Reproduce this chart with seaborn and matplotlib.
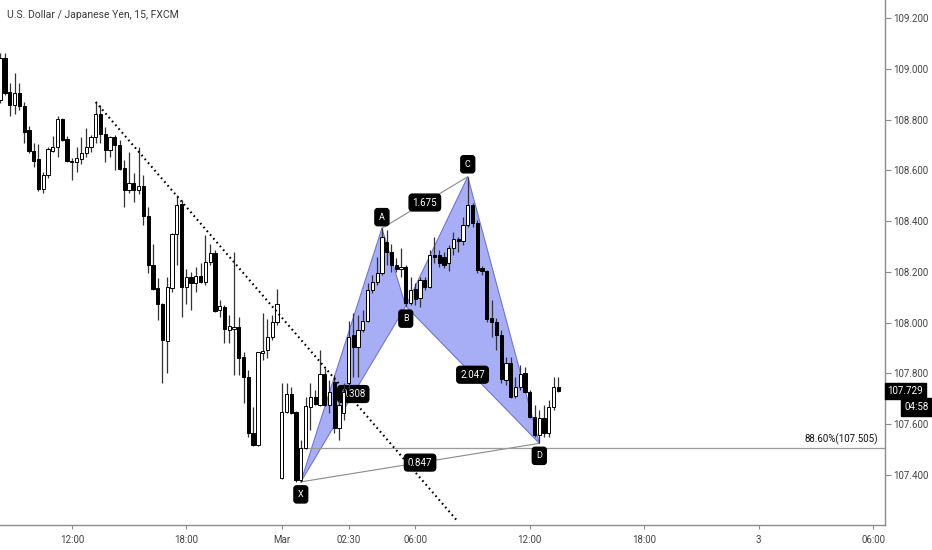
import matplotlib
matplotlib.use("Agg")
import matplotlib.pyplot as plt
import matplotlib.transforms as mtransforms
import seaborn as sns
import numpy as np

# ---------------- data (USD/JPY 15m candles) ----------------
opens = [108.878, 109.043, 108.909, 108.858, 108.905, 108.854, 108.759, 108.677, 108.645, 108.527,
         108.582, 108.677, 108.692, 108.803, 108.724, 108.637, 108.633, 108.645, 108.669, 108.692,
         108.732, 108.822, 108.744, 108.681, 108.732, 108.700, 108.610, 108.523, 108.550, 108.523,
         108.539, 108.420, 108.227, 108.136, 108.073, 107.927, 108.136, 108.349, 108.468, 108.140,
         108.180, 108.156, 108.184, 108.160, 108.239, 108.274, 108.050, 108.061, 107.971, 107.975,
         107.983, 107.864, 107.785, 107.565, 107.517, 107.880, 107.892, 107.943, 108.002, 107.387,
         107.647, 107.718, 107.647, 107.379, 107.506, 107.667, 107.707, 107.675, 107.797, 107.675,
         107.766, 107.584, 107.644, 107.762, 107.951, 107.904, 107.971, 108.006, 108.129, 108.160,
         108.196, 108.318, 108.278, 108.227, 108.211, 108.219, 108.077, 108.132, 108.097, 108.168,
         108.140, 108.267, 108.267, 108.259, 108.235, 108.294, 108.330, 108.322, 108.385, 108.464,
         108.393, 108.215, 108.203, 108.018, 108.002, 107.951, 107.774, 107.841, 107.711, 107.746,
         107.801, 107.726, 107.628, 107.557, 107.624, 107.565, 107.667, 107.746]
highs = [109.063, 109.063, 108.945, 108.984, 108.945, 108.870, 108.775, 108.708, 108.704, 108.594,
         108.692, 108.736, 108.815, 108.807, 108.736, 108.649, 108.692, 108.732, 108.767, 108.740,
         108.870, 108.858, 108.771, 108.735, 108.740, 108.720, 108.641, 108.673, 108.590, 108.692,
         108.582, 108.456, 108.310, 108.176, 108.077, 108.180, 108.355, 108.503, 108.483, 108.211,
         108.199, 108.219, 108.235, 108.345, 108.310, 108.286, 108.089, 108.069, 108.030, 108.278,
         108.022, 107.884, 107.813, 107.667, 107.884, 108.038, 108.014, 108.030, 108.132, 107.762,
         107.762, 107.746, 107.650, 107.537, 107.707, 107.762, 107.734, 107.892, 107.821, 107.774,
         107.793, 107.695, 107.762, 108.006, 108.038, 108.030, 108.050, 108.156, 108.188, 108.259,
         108.373, 108.365, 108.310, 108.255, 108.294, 108.227, 108.180, 108.156, 108.180, 108.180,
         108.286, 108.337, 108.286, 108.278, 108.306, 108.357, 108.337, 108.416, 108.575, 108.472,
         108.405, 108.223, 108.207, 108.089, 108.018, 107.971, 107.864, 107.864, 107.785, 107.833,
         107.825, 107.734, 107.675, 107.655, 107.675, 107.695, 107.785, 107.785]
lows = [108.866, 108.897, 108.815, 108.822, 108.838, 108.708, 108.669, 108.614, 108.520, 108.511,
        108.570, 108.673, 108.653, 108.716, 108.632, 108.562, 108.594, 108.625, 108.653, 108.673,
        108.708, 108.708, 108.633, 108.653, 108.602, 108.602, 108.456, 108.511, 108.476, 108.507,
        108.385, 108.196, 108.129, 108.010, 107.762, 107.801, 108.121, 108.227, 108.022, 108.073,
        108.050, 108.121, 108.155, 108.148, 108.227, 108.042, 108.022, 107.920, 107.920, 107.793,
        107.793, 107.683, 107.549, 107.513, 107.513, 107.853, 107.860, 107.931, 107.990, 107.383,
        107.644, 107.640, 107.371, 107.371, 107.500, 107.576, 107.675, 107.670, 107.670, 107.644,
        107.565, 107.537, 107.616, 107.734, 107.785, 107.785, 107.963, 108.002, 108.117, 108.148,
        108.188, 108.227, 108.199, 108.199, 108.180, 108.065, 108.069, 108.069, 108.061, 108.129,
        108.136, 108.235, 108.219, 108.215, 108.203, 108.267, 108.278, 108.306, 108.377, 108.377,
        108.196, 108.188, 108.002, 107.943, 107.892, 107.762, 107.754, 107.703, 107.703, 107.734,
        107.722, 107.624, 107.549, 107.525, 107.549, 107.549, 107.655, 107.726]
closes = [109.043, 108.905, 108.858, 108.905, 108.854, 108.752, 108.677, 108.637, 108.527, 108.582,
          108.684, 108.692, 108.803, 108.720, 108.637, 108.633, 108.649, 108.669, 108.692, 108.732,
          108.822, 108.744, 108.681, 108.732, 108.700, 108.606, 108.523, 108.550, 108.523, 108.539,
          108.420, 108.227, 108.132, 108.073, 107.931, 108.140, 108.349, 108.464, 108.140, 108.180,
          108.156, 108.184, 108.160, 108.239, 108.274, 108.046, 108.065, 107.975, 107.987, 107.983,
          107.860, 107.785, 107.565, 107.517, 107.884, 107.888, 107.943, 108.002, 108.073, 107.647,
          107.718, 107.644, 107.379, 107.506, 107.671, 107.707, 107.679, 107.797, 107.675, 107.726,
          107.584, 107.675, 107.726, 107.943, 107.904, 107.971, 108.006, 108.129, 108.160, 108.196,
          108.337, 108.278, 108.227, 108.211, 108.219, 108.077, 108.129, 108.093, 108.168, 108.140,
          108.267, 108.259, 108.235, 108.227, 108.294, 108.330, 108.322, 108.385, 108.464, 108.393,
          108.207, 108.203, 108.014, 108.002, 107.951, 107.778, 107.841, 107.707, 107.746, 107.797,
          107.726, 107.628, 107.557, 107.624, 107.565, 107.667, 107.746, 107.729]

# XABCD pattern points (bar index, price)
pattern_names = ["X", "A", "B", "C", "D"]
pattern_bars = [63, 80, 85, 98, 113]
pattern_prices = [107.372, 108.372, 108.065, 108.575, 107.524]
ratio_labels = ["0.308", "1.675", "2.047", "0.847"]

# dotted trend line (bar index, price)
trend_bars = [20, 96]
trend_prices = [108.870, 107.214]

fib_level = 107.505
fib_label = "88.60%(107.505)"
last_price = 107.729
countdown = "04:58"

xtick_bars = [15, 39, 59, 73, 87, 111, 135, 159, 183]
xtick_labels = ["12:00", "18:00", "Mar", "02:30", "06:00", "12:00", "18:00", "3", "06:00"]
ytick_values = [107.4, 107.6, 107.8, 108.0, 108.2, 108.4, 108.6, 108.8, 109.0, 109.2]
title = "U.S. Dollar / Japanese Yen, 15, FXCM"

# ---------------- style ----------------
sns.set_theme(style="white")
plt.rcParams['font.family'] = ['Roboto', 'DejaVu Sans']

W, H = 932, 550
fig = plt.figure(figsize=(W / 100, H / 100), dpi=100)
fig.patch.set_facecolor("white")
ax = fig.add_axes([0, 25 / H, 885 / W, 525 / H])
ax.set_facecolor("white")

n = len(opens)
idx = np.arange(n)
o = np.array(opens); c = np.array(closes); hi = np.array(highs); lo = np.array(lows)

# pattern fill
px = pattern_bars; py = pattern_prices
fill_col = "#a8aef6"
edge_col = "#6f76d6"
ax.fill([px[0], px[1], px[2]], [py[0], py[1], py[2]], color=fill_col, zorder=1, lw=0)
ax.fill([px[2], px[3], px[4]], [py[2], py[3], py[4]], color=fill_col, zorder=1, lw=0)
for a, b in [(0, 1), (1, 2), (2, 0), (2, 3), (3, 4), (4, 2)]:
    ax.plot([px[a], px[b]], [py[a], py[b]], color=edge_col, lw=0.8, zorder=2)
# gray connectors A-C and X-D
sns.lineplot(x=[px[1], px[3]], y=[py[1], py[3]], ax=ax, color="#8a8a8a", lw=0.8, zorder=2)
sns.lineplot(x=[px[0], px[4]], y=[py[0], py[4]], ax=ax, color="#8a8a8a", lw=0.8, zorder=2)

# fib line
ax.plot([px[0], 200], [fib_level, fib_level], color="#9a9a9a", lw=0.9, zorder=2, clip_on=True)

# dotted trend line
ax.plot(trend_bars, trend_prices, color="black", lw=1.5, linestyle=(0, (0.8, 1.6)),
        dash_capstyle="butt", zorder=5)

# ratio labels (midpoints X-B, A-C, B-D, X-D)
box = dict(boxstyle="round,pad=0.35,rounding_size=0.35", fc="black", ec="black")
mids = [(0, 2), (1, 3), (2, 4), (0, 4)]
for (a, b), lab in zip(mids, ratio_labels):
    ax.text((px[a] + px[b]) / 2, (py[a] + py[b]) / 2, lab, color="white", fontsize=7,
            ha="center", va="center", bbox=box, zorder=3)

# point labels
offsets = {"X": -9, "A": 8, "B": -9, "C": 9, "D": -9}
for nm, bx, by in zip(pattern_names, px, py):
    ax.annotate(nm, (bx, by), xytext=(0, offsets[nm]), textcoords="offset points",
                ha="center", va="center", color="white", fontsize=6.5,
                bbox=dict(boxstyle="round,pad=0.45,rounding_size=0.3", fc="black", ec="black"),
                zorder=6)

# candles
up = c >= o
ax.vlines(idx, lo, hi, color="#333333", lw=0.9, zorder=3.5)
body_bottom = np.minimum(o, c)
body_h = np.maximum(np.abs(c - o), 0.002)
ax.bar(idx, body_h, bottom=body_bottom, width=0.68,
       color=np.where(up, "white", "black"), edgecolor="black", linewidth=0.7, zorder=4)

# fib label
blend = mtransforms.blended_transform_factory(ax.transAxes, ax.transData)
ax.text(0.9925, fib_level + 0.012, fib_label, transform=blend,
        ha="right", va="bottom", fontsize=7, color="#111111", zorder=6)

# axes
ax.set_xlim(-0.063, 185.47)
ax.set_ylim(107.202, 109.272)
for s in ["top", "left"]:
    ax.spines[s].set_visible(False)
for s in ["right", "bottom"]:
    ax.spines[s].set_visible(True)
    ax.spines[s].set_color("#8c8c8c")
    ax.spines[s].set_linewidth(1.0)

ax.yaxis.tick_right()
ax.set_yticks(ytick_values)
ax.set_yticklabels([f"{v:.3f}" for v in ytick_values])
ax.set_xticks(xtick_bars)
ax.set_xticklabels(xtick_labels)
ax.tick_params(axis="y", which="both", right=True, left=False, length=4, width=0.8,
               color="#8c8c8c", labelsize=7, labelcolor="#444444", pad=2)
ax.tick_params(axis="x", which="both", bottom=True, length=3, width=0.8,
               color="#8c8c8c", labelsize=7, labelcolor="#444444", pad=4)
ax.grid(False)

# last price and countdown tags
ax.text(1.003, last_price, f"{last_price:.3f}", transform=blend, ha="left", va="center",
        fontsize=7, color="white", clip_on=False, zorder=7,
        bbox=dict(boxstyle="square,pad=0.3", fc="black", ec="black"))
fig.text(0.997, 1 - 407 / H, countdown, ha="right", va="center", fontsize=7, color="white",
         bbox=dict(boxstyle="square,pad=0.45", fc="black", ec="black"))

fig.text(7 / W, 1 - 15 / H, title, ha="left", va="center", fontsize=7.5, color="#3a3a3a")

fig.savefig("out.png", dpi=100, facecolor="white")
